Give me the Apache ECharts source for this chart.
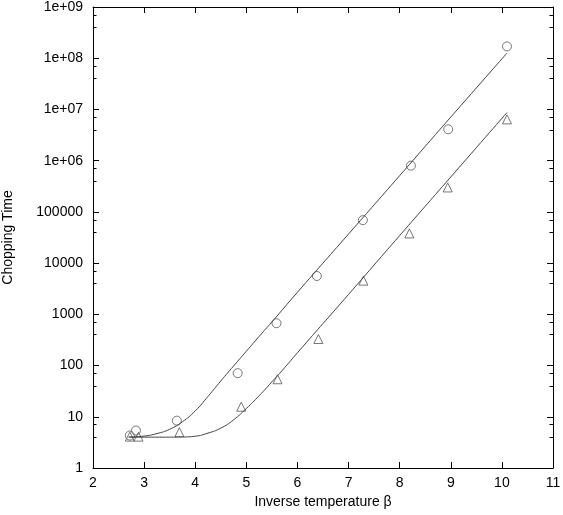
<!DOCTYPE html>
<html>
<head>
<meta charset="utf-8">
<script src="https://cdn.jsdelivr.net/npm/echarts@6/dist/echarts.min.js"></script>
<style>
  html, body { margin: 0; padding: 0; background: #fff; }
  #chart { width: 563px; height: 515px; }
</style>
</head>
<body>
<div id="chart"></div>
<script>
// measured points, circles (upper set)
var circ_beta = [2.72, 2.84, 3.64, 4.83, 5.59, 6.38, 7.28, 8.22, 8.95, 10.1];
var circ_time = [4.3, 5.4, 8.4, 71, 670, 5600, 69000, 800000, 4100000, 170000000];

// measured points, triangles (lower set)
var tri_beta = [2.72, 2.89, 3.69, 4.90, 5.61, 6.41, 7.29, 8.19, 8.94, 10.1];
var tri_time = [4.1, 4.1, 5.0, 15.7, 54, 330, 4550, 38000, 300000, 6400000];

// fitted curves
var fit1_beta = [2.7, 3.0, 3.25, 3.5, 3.75, 4.0, 4.25, 4.5, 4.75, 5.0, 5.25, 5.5, 6.0, 7.0, 8.0, 9.0, 10.1];
var fit1_time = [4.03, 4.2, 4.7, 5.7, 8.0, 13.0, 25.0, 50, 98, 190, 370, 710, 2700, 37000, 510000, 7100000, 126000000];

var fit2_beta = [2.7, 3.0, 3.5, 3.75, 4.0, 4.25, 4.5, 4.75, 5.0, 5.25, 5.5, 5.75, 6.0, 7.0, 8.0, 9.0, 10.1];
var fit2_time = [4.0, 4.0, 4.0, 4.03, 4.17, 4.8, 6.0, 8.7, 14.5, 25.7, 48, 91, 178, 2450, 34500, 480000, 8700000];

var x_ticks = [2, 3, 4, 5, 6, 7, 8, 9, 10, 11];
var y_labels = ['1', '10', '100', '1000', '10000', '100000', '1e+06', '1e+07', '1e+08', '1e+09'];

function pairs(xs, ys) {
    return xs.map(function (x, i) { return [x, ys[i]]; });
}

var font = 'Liberation Sans, Arial, Helvetica, sans-serif';
var ink = '#000';
var mark_col = '#555';
var line_col = '#444';

var chart = echarts.init(document.getElementById('chart'), null, {renderer: 'canvas'});

var option = {
    animation: false,
    backgroundColor: '#fff',
    grid: {left: 93, top: 7, right: 10, bottom: 47, outerBoundsMode: 'none', containLabel: false},
    xAxis: [{
        type: 'value',
        min: x_ticks[0],
        max: x_ticks[x_ticks.length - 1],
        interval: 1,
        name: 'Inverse temperature β',
        nameLocation: 'middle',
        nameGap: 25,
        nameTextStyle: {fontFamily: font, fontSize: 14, color: ink},
        axisLine: {show: true, lineStyle: {color: ink, width: 1}},
        axisTick: {show: true, inside: true, length: 6, lineStyle: {color: ink}},
        axisLabel: {fontFamily: font, fontSize: 14, color: ink, margin: 8},
        splitLine: {show: false}
    }, {
        type: 'value',
        position: 'top',
        min: x_ticks[0],
        max: x_ticks[x_ticks.length - 1],
        interval: 1,
        axisLine: {show: true, lineStyle: {color: ink, width: 1}},
        axisTick: {show: true, inside: true, length: 6, lineStyle: {color: ink}},
        axisLabel: {show: false},
        splitLine: {show: false}
    }],
    yAxis: [{
        type: 'log',
        logBase: 10,
        min: 1,
        max: 1e9,
        name: 'Chopping Time',
        nameLocation: 'middle',
        nameGap: 78,
        nameTextStyle: {fontFamily: font, fontSize: 14, color: ink},
        axisLine: {show: true, lineStyle: {color: ink, width: 1}},
        axisTick: {show: true, inside: true, length: 6, lineStyle: {color: ink}},
        minorTick: {show: true, splitNumber: 3, length: 3.5, lineStyle: {color: ink}},
        axisLabel: {
            fontFamily: font, fontSize: 14, color: ink, margin: 10,
            formatter: function (v) {
                var e = Math.round(Math.log(v) / Math.LN10);
                return y_labels[e] || '';
            }
        },
        splitLine: {show: false}
    }, {
        type: 'log',
        logBase: 10,
        min: 1,
        max: 1e9,
        position: 'right',
        axisLine: {show: true, lineStyle: {color: ink, width: 1}},
        axisTick: {show: true, inside: true, length: 6, lineStyle: {color: ink}},
        minorTick: {show: true, splitNumber: 3, length: 3.5, lineStyle: {color: ink}},
        axisLabel: {show: false},
        splitLine: {show: false}
    }],
    series: [{
        type: 'line',
        data: pairs(fit1_beta, fit1_time),
        smooth: 0.5,
        symbol: 'none',
        lineStyle: {color: line_col, width: 1}
    }, {
        type: 'line',
        data: pairs(fit2_beta, fit2_time),
        smooth: 0.5,
        symbol: 'none',
        lineStyle: {color: line_col, width: 1}
    }, {
        type: 'scatter',
        data: pairs(circ_beta, circ_time),
        symbol: 'circle',
        symbolSize: 9,
        itemStyle: {color: 'transparent', borderColor: mark_col, borderWidth: 1}
    }, {
        type: 'scatter',
        data: pairs(tri_beta, tri_time),
        symbol: 'triangle',
        symbolSize: 9,
        itemStyle: {color: 'transparent', borderColor: mark_col, borderWidth: 1}
    }]
};

chart.setOption(option);
</script>
</body>
</html>
